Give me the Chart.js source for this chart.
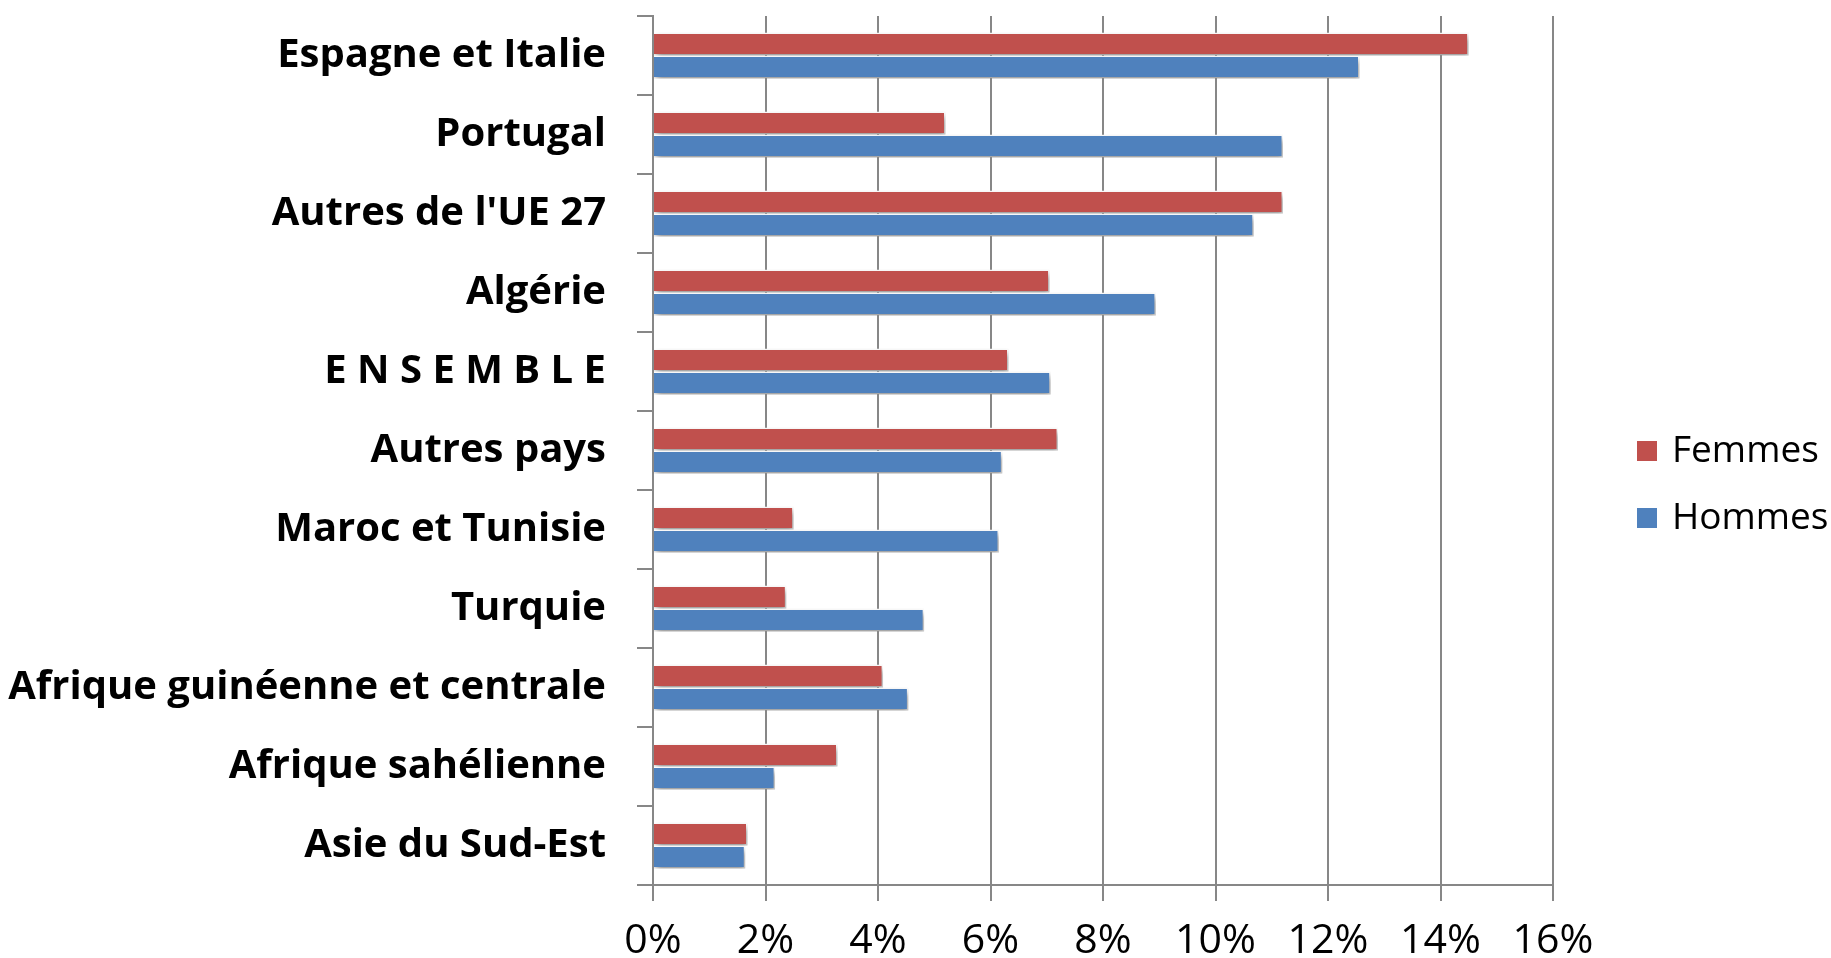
<!DOCTYPE html>
<html lang="fr">
<head>
<meta charset="utf-8">
<title>Femmes / Hommes par origine</title>
<script src="https://cdn.jsdelivr.net/npm/chart.js@4/dist/chart.umd.min.js"></script>
<style>
    html, body { margin: 0; padding: 0; background: #fff; }
    #wrap { width: 1831px; height: 958px; position: relative; }
</style>
</head>
<body>
<div id="wrap"><canvas id="originChart"></canvas></div>
<script>
'use strict';

// ============================================================================
// Data (in %)
// ============================================================================

const categories = [
    'Espagne et Italie',
    'Portugal',
    "Autres de l'UE 27",
    'Algérie',
    'E N S E M B L E',
    'Autres pays',
    'Maroc et Tunisie',
    'Turquie',
    'Afrique guinéenne et centrale',
    'Afrique sahélienne',
    'Asie du Sud-Est'
];

const femmes = [14.5, 5.2, 11.2, 7.05, 6.32, 7.2, 2.5, 2.37, 4.09, 3.28, 1.68];
const hommes = [12.56, 11.2, 10.68, 8.94, 7.07, 6.21, 6.15, 4.82, 4.54, 2.17, 1.64];

const xTicks = [0, 2, 4, 6, 8, 10, 12, 14, 16];

// ============================================================================
// Colors
// ============================================================================

const colors = {
    femmes: '#C0504D',
    hommes: '#4F81BD',
    grid: '#878787',
    text: '#000'
};

// ============================================================================
// Plugins
// ============================================================================

// Soft drop shadow behind the bars (Excel 2007 look)
const barShadow = {
    id: 'barShadow',
    beforeDatasetsDraw(chart) {
        const ctx = chart.ctx;
        ctx.save();
        ctx.shadowColor = 'rgba(0,0,0,0.4)';
        ctx.shadowBlur = 6;
        ctx.shadowOffsetX = 2;
        ctx.shadowOffsetY = 4;
    },
    afterDatasetsDraw(chart) {
        chart.ctx.restore();
    }
};

// Legend drawn to the right of the plot area
const sideLegend = {
    id: 'sideLegend',
    afterDraw(chart) {
        const ctx = chart.ctx;
        const area = chart.chartArea;
        const x = area.right + 84;
        const rows = [451, 518];
        ctx.save();
        ctx.font = '37px "Open Sans", sans-serif';
        ctx.textBaseline = 'middle';
        ctx.textAlign = 'left';
        chart.data.datasets.forEach((ds, i) => {
            const y = rows[i];
            ctx.fillStyle = ds.backgroundColor;
            ctx.fillRect(x, y - 10, 20, 20);
            ctx.fillStyle = colors.text;
            ctx.fillText(ds.label, x + 35, y);
        });
        ctx.restore();
    }
};

// ============================================================================
// Chart
// ============================================================================

const canvas = document.getElementById('originChart');

new Chart(canvas, {
    type: 'bar',
    data: {
        labels: categories,
        datasets: [
            {
                label: 'Femmes',
                data: femmes,
                backgroundColor: colors.femmes,
                borderColor: '#fff',
                borderWidth: 1.5,
                barPercentage: 1,
                categoryPercentage: 0.58
            },
            {
                label: 'Hommes',
                data: hommes,
                backgroundColor: colors.hommes,
                borderColor: '#fff',
                borderWidth: 1.5,
                barPercentage: 1,
                categoryPercentage: 0.58
            }
        ]
    },
    options: {
        indexAxis: 'y',
        responsive: true,
        maintainAspectRatio: false,
        animation: false,
        layout: {
            padding: { top: 16, right: 278, left: 0, bottom: 0 }
        },
        plugins: {
            legend: { display: false },
            tooltip: { enabled: false }
        },
        scales: {
            x: {
                min: 0,
                max: 16,
                afterBuildTicks: (scale) => {
                    scale.ticks = xTicks.map(v => ({ value: v }));
                },
                afterFit: (scale) => { scale.height = 73; },
                ticks: {
                    color: colors.text,
                    padding: 16,
                    font: { family: "'Open Sans', sans-serif", size: 41 },
                    callback: (value) => value + '%'
                },
                grid: {
                    color: colors.grid,
                    lineWidth: 2,
                    tickLength: 16
                },
                border: { color: colors.grid, width: 2 }
            },
            y: {
                afterFit: (scale) => {
                    scale.width = 653;
                    scale.paddingTop = 0;
                    scale.paddingBottom = 0;
                },
                ticks: {
                    color: colors.text,
                    padding: 31,
                    font: { family: "'Open Sans', sans-serif", size: 40, weight: 'bold' }
                },
                grid: {
                    drawOnChartArea: false,
                    color: colors.grid,
                    lineWidth: 2,
                    tickLength: 16,
                    offset: true
                },
                border: { color: colors.grid, width: 2 }
            }
        }
    },
    plugins: [barShadow, sideLegend]
});
</script>
</body>
</html>
